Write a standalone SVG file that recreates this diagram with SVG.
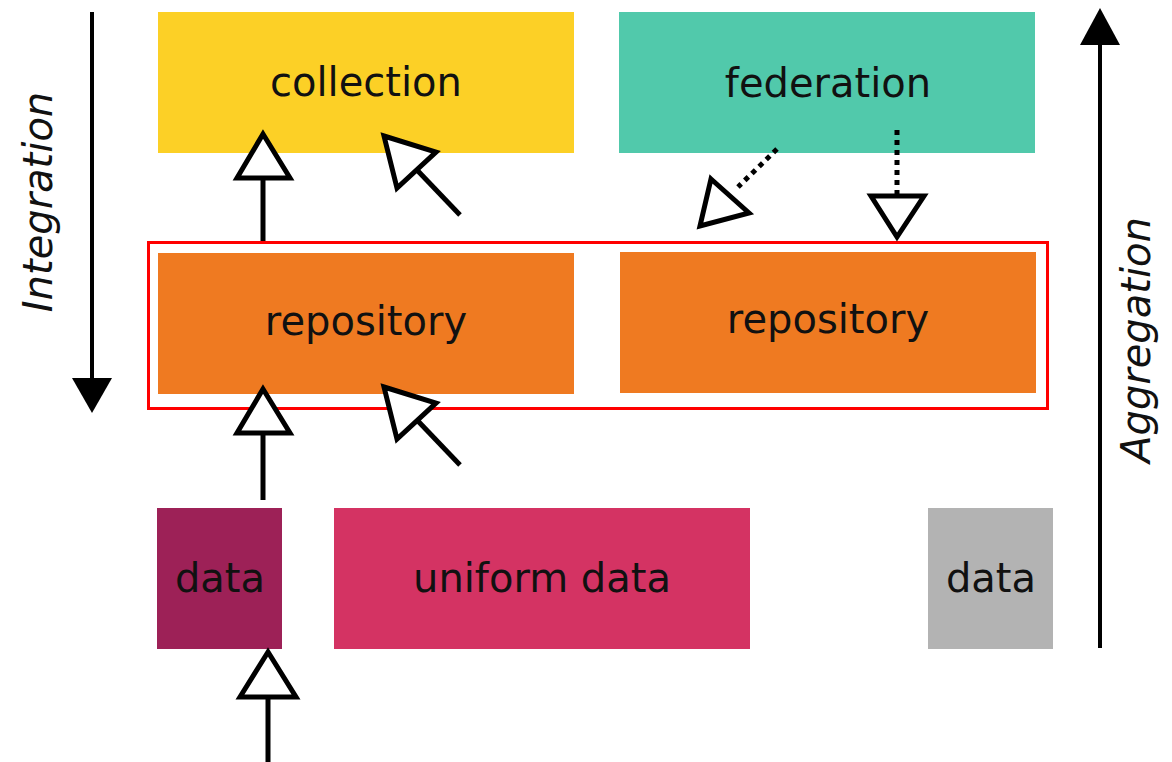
<svg xmlns="http://www.w3.org/2000/svg" width="1172" height="762" viewBox="0 0 1172 762">
  <style>
    .lbl { font-family: "DejaVu Sans", Verdana, sans-serif; font-size: 40px; fill: #111; text-anchor: middle; }
    .axis { font-family: "DejaVu Sans", Verdana, sans-serif; font-size: 40px; font-style: italic; fill: #111; text-anchor: middle; }
    .ln { stroke: #000; stroke-width: 5; fill: none; }
    .dot { stroke: #000; stroke-width: 5; fill: none; stroke-dasharray: 5 5; }
    .head { stroke: #000; stroke-width: 5; fill: #fff; stroke-linejoin: miter; }
    .axln { stroke: #000; stroke-width: 4; fill: none; }
  </style>
  <rect width="1172" height="762" fill="#fff"/>

  <!-- axis arrows -->
  <g id="integration-axis">
    <line class="axln" x1="92" y1="12" x2="92" y2="382"/>
    <polygon points="72,378 112,378 92,413" fill="#000"/>
    <text class="axis" transform="translate(52,202) rotate(-90)">Integration</text>
  </g>
  <g id="aggregation-axis">
    <line class="axln" x1="1100" y1="648" x2="1100" y2="40"/>
    <polygon points="1080,45 1120,45 1100,8" fill="#000"/>
    <text class="axis" transform="translate(1150,340) rotate(-90)">Aggregation</text>
  </g>

  <!-- nodes -->
  <g id="collection">
    <rect x="158" y="12" width="416" height="141" fill="#fcd026"/>
    <text class="lbl" x="366" y="96">collection</text>
  </g>
  <g id="federation">
    <rect x="619" y="12" width="416" height="141" fill="#51c9ab"/>
    <text class="lbl" x="828" y="97">federation</text>
  </g>
  <g id="repository-a">
    <rect x="158" y="253" width="416" height="141" fill="#ef7a21"/>
    <text class="lbl" x="366" y="335">repository</text>
  </g>
  <g id="repository-b">
    <rect x="620" y="252" width="416" height="141" fill="#ef7a21"/>
    <text class="lbl" x="828" y="333">repository</text>
  </g>
  <g id="repository-group">
    <rect x="148.5" y="242.5" width="899" height="166" fill="none" stroke="#ff0000" stroke-width="3"/>
  </g>
  <g id="data-a">
    <rect x="157" y="508" width="125" height="141" fill="#9d2157"/>
    <text class="lbl" x="220" y="592">data</text>
  </g>
  <g id="uniform-data">
    <rect x="334" y="508" width="416" height="141" fill="#d43363"/>
    <text class="lbl" x="542" y="592">uniform data</text>
  </g>
  <g id="data-b">
    <rect x="928" y="508" width="125" height="141" fill="#b3b3b3"/>
    <text class="lbl" x="991" y="592">data</text>
  </g>

  <!-- connectors -->
  <g id="connectors">
    <!-- repository to collection -->
    <line class="ln" x1="263" y1="241" x2="263" y2="179"/>
    <polygon class="head" points="263,134 237,178 290,178"/>
    <line class="ln" x1="460" y1="215" x2="417" y2="170"/>
    <polygon class="head" points="384,136 436,152 397,188"/>
    <!-- federation to repository -->
    <line class="dot" x1="777" y1="149" x2="738" y2="187"/>
    <polygon class="head" points="711,179 749,213 700,226"/>
    <line class="dot" x1="897" y1="130" x2="897" y2="194"/>
    <polygon class="head" points="871,196 924,196 897,237"/>
    <!-- data to repository -->
    <line class="ln" x1="263" y1="500" x2="263" y2="433"/>
    <polygon class="head" points="263,389 237,433 290,433"/>
    <line class="ln" x1="460" y1="465" x2="417" y2="420"/>
    <polygon class="head" points="384,387 436,403 397,439"/>
    <!-- incoming to data -->
    <line class="ln" x1="268" y1="762" x2="268" y2="697"/>
    <polygon class="head" points="268,652 240,697 296,697"/>
  </g>
</svg>
